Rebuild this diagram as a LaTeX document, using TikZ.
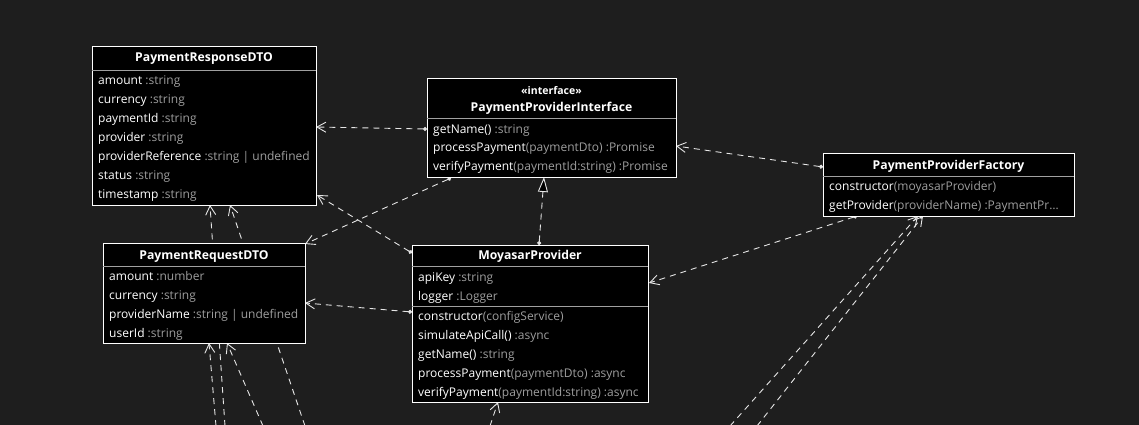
\documentclass[tikz,border=0pt]{standalone}
\usepackage{fontspec}
\setmainfont{Open Sans}
\usetikzlibrary{arrows.meta,calc}
\definecolor{bgc}{HTML}{1E1E1E}
\definecolor{typec}{HTML}{9E9E9E}
\definecolor{sepc}{HTML}{A0A0A0}
\definecolor{linec}{HTML}{E6E6E6}
\newcommand{\tyc}[1]{\textcolor{typec}{#1}}
\pgfdeclarelayer{bglayer}
\pgfdeclarelayer{linelayer}
\pgfsetlayers{bglayer,linelayer,main}
\begin{document}
\begin{tikzpicture}[x=1pt,y=-1pt,
  box/.style={draw=white, fill=black, line width=1pt, anchor=north west, inner sep=0pt, outer sep=0pt},
  ttl/.style={font=\fontsize{12.2}{14}\selectfont\bfseries, text=white, inner sep=0pt, anchor=center, text height=8pt, text depth=2pt},
  row/.style={font=\fontsize{12}{14}\selectfont, text=white, inner sep=0pt, anchor=west, text height=8pt, text depth=2pt},
  sepl/.style={draw=sepc, line width=0.8pt},
  dep/.style={draw=linec, line width=0.9pt, dash pattern=on 6pt off 5pt, {Circle[length=4pt]}-{Straight Barb[length=9pt,width=10pt]}},
  dp/.style={draw=linec, line width=0.9pt, dash pattern=on 6pt off 5pt, -{Straight Barb[length=9pt,width=10pt]}},
  real/.style={draw=linec, line width=0.9pt, dash pattern=on 6pt off 5pt, {Circle[length=4pt]}-{Triangle[length=15pt,width=10pt,fill=black]}}
]
\begin{pgfonlayer}{bglayer}
\fill[bgc] (0,0) rectangle (1139,425);
\end{pgfonlayer}
\useasboundingbox (0,0) rectangle (1139,425);
\clip (0,0) rectangle (1139,425);

% boxes
\node[box, minimum width=224pt, minimum height=158pt] (resp) at (92,47) {};
\node[box, minimum width=249pt, minimum height=98pt] (ppi) at (427,79) {};
\node[box, minimum width=251pt, minimum height=63pt] (ppf) at (823,153) {};
\node[box, minimum width=202pt, minimum height=100pt] (req) at (103,243) {};
\node[box, minimum width=236pt, minimum height=157pt] (moy) at (412,245) {};

% separators
\draw[sepl] ($(resp.north west)+(0,23)$) -- ($(resp.north east)+(0,23)$);
\draw[sepl] ($(ppi.north west)+(0,39)$) -- ($(ppi.north east)+(0,39)$);
\draw[sepl] ($(ppf.north west)+(0,23)$) -- ($(ppf.north east)+(0,23)$);
\draw[sepl] ($(req.north west)+(0,23)$) -- ($(req.north east)+(0,23)$);
\draw[sepl] ($(moy.north west)+(0,21)$) -- ($(moy.north east)+(0,21)$);
\draw[sepl] ($(moy.north west)+(0,61)$) -- ($(moy.north east)+(0,61)$);

% PaymentResponseDTO
\node[ttl] (respT) at (204,58.5) {PaymentResponseDTO};
\node[row] (resp1) at (98,81.8) {amount \tyc{:string}};
\node[row] (resp2) at (98,100.7) {currency \tyc{:string}};
\node[row] (resp3) at (98,119.6) {paymentId \tyc{:string}};
\node[row] (resp4) at (98,138.5) {provider \tyc{:string}};
\node[row] (resp5) at (98,157.4) {providerReference \tyc{:string | undefined}};
\node[row] (resp6) at (98,176.3) {status \tyc{:string}};
\node[row] (resp7) at (98,195.2) {timestamp \tyc{:string}};

% PaymentProviderInterface
\node[ttl, font=\fontsize{10.5}{12}\selectfont\bfseries] (ppiS) at (551.5,92) {«interface»};
\node[ttl] (ppiT) at (551.5,108.3) {PaymentProviderInterface};
\node[row] (ppi1) at (433,130.3) {getName() \tyc{:string}};
\node[row] (ppi2) at (433,148.9) {processPayment\tyc{(paymentDto) :Promise}};
\node[row] (ppi3) at (433,167.6) {verifyPayment\tyc{(paymentId:string) :Promise}};

% PaymentProviderFactory
\node[ttl] (ppfT) at (948.5,166.3) {PaymentProviderFactory};
\node[row] (ppf1) at (829,187.8) {constructor\tyc{(moyasarProvider)}};
\node[row] (ppf2) at (829,206.3) {getProvider\tyc{(providerName) :PaymentPr…}};

% PaymentRequestDTO
\node[ttl] (reqT) at (204,256.3) {PaymentRequestDTO};
\node[row] (req1) at (109,277.6) {amount \tyc{:number}};
\node[row] (req2) at (109,296.5) {currency \tyc{:string}};
\node[row] (req3) at (109,315.4) {providerName \tyc{:string | undefined}};
\node[row] (req4) at (109,334.3) {userId \tyc{:string}};

% MoyasarProvider
\node[ttl] (moyT) at (530,256.3) {MoyasarProvider};
\node[row] (moy1) at (418,278) {apiKey \tyc{:string}};
\node[row] (moy2) at (418,297.3) {logger \tyc{:Logger}};
\node[row] (moy3) at (418,317.6) {constructor\tyc{(configService)}};
\node[row] (moy4) at (418,336.5) {simulateApiCall() \tyc{:async}};
\node[row] (moy5) at (418,355.4) {getName() \tyc{:string}};
\node[row] (moy6) at (418,374.3) {processPayment\tyc{(paymentDto) :async}};
\node[row] (moy7) at (418,393.2) {verifyPayment\tyc{(paymentId:string) :async}};

% free ends below the picture
\coordinate (e1) at (730,426);
\coordinate (e2) at (757,426);
\coordinate (e3) at (225,426);
\coordinate (e4) at (305,426);
\coordinate (e5) at (216,426);
\coordinate (e6) at (263,426);
\coordinate (e7) at (490,426);

\begin{pgfonlayer}{linelayer}
\draw[dep] ($(ppi.north west)+(0,50)$) -- ($(resp.north east)+(0,80)$);
\draw[dep] ($(ppi.north west)+(24,99)$) -- ($(req.north east)+(0,1)$);
\draw[dep] ($(moy.north west)+(0,8)$) -- ($(resp.north east)+(1,148)$);
\draw[dep] ($(moy.north west)+(0,67)$) -- ($(req.north east)+(0,60)$);
\draw[real] ($(moy.north west)+(127,0)$) -- ($(ppi.north west)+(117,98)$);
\draw[dep] ($(ppf.north west)+(0,14)$) -- ($(ppi.north east)+(0,67)$);
\draw[dep] ($(ppf.north west)+(34,63)$) -- ($(moy.north east)+(1,38)$);
\draw[dp] (e1) -- ($(ppf.north west)+(95,63)$);
\draw[dp] (e2) -- ($(ppf.north west)+(100,63)$);
\draw[dp] (e3) -- ($(resp.south west)+(118,0)$);
\draw[dp] (e4) -- ($(resp.south west)+(138,0)$);
\draw[dp] (e5) -- ($(req.south west)+(106,0)$);
\draw[dp] (e6) -- ($(req.south west)+(124,0)$);
\draw[dp] (e7) -- ($(moy.south west)+(86,0)$);
\end{pgfonlayer}
\end{tikzpicture}
\end{document}
